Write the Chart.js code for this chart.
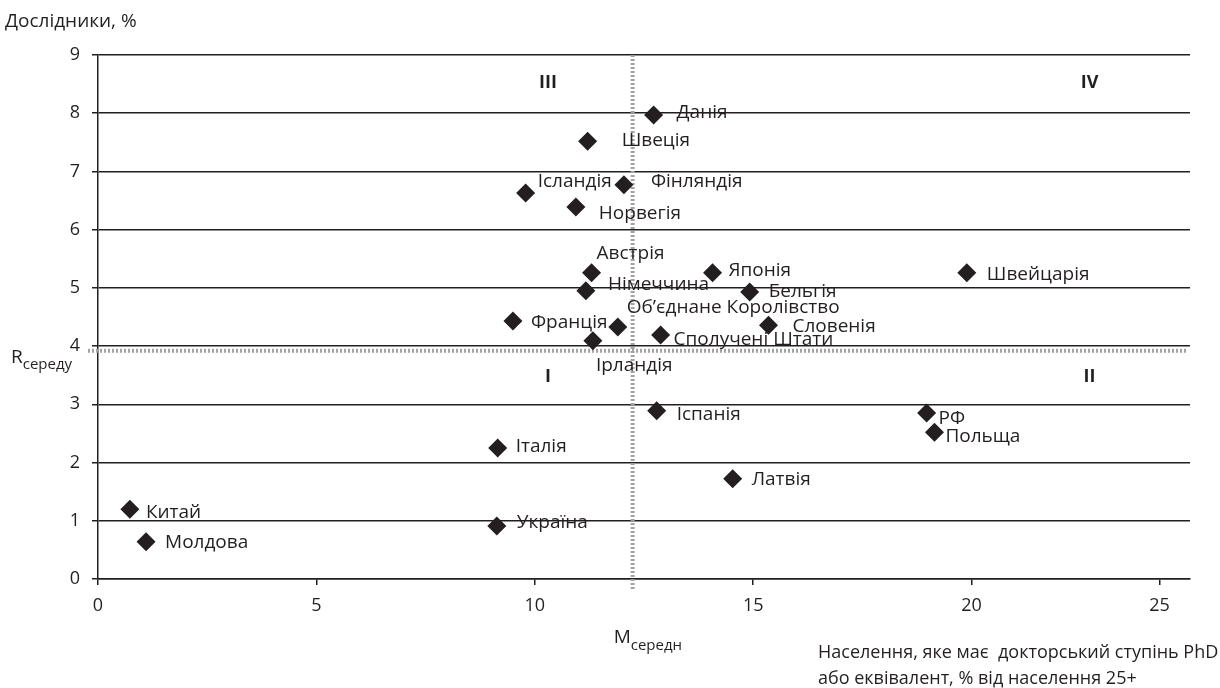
<!DOCTYPE html>
<html lang="uk">
  <head>
    <meta charset="UTF-8" />
    <title>Дослідники та PhD</title>
    <script src="https://cdn.jsdelivr.net/npm/chart.js"></script>
    <style>
      html, body { margin: 0; padding: 0; background: #fff; }
      #wrap { width: 1220px; height: 688px; position: relative; }
    </style>
  </head>
  <body>
    <div id="wrap">
      <canvas id="chart"></canvas>
    </div>
    <script>
      const countries = [
        "Данія", "Швеція", "Ісландія", "Фінляндія", "Норвегія",
        "Австрія", "Німеччина", "Японія", "Бельгія", "Швейцарія",
        "Франція", "Об’єднане Королівство", "Словенія", "Сполучені Штати", "Ірландія",
        "Іспанія", "Італія", "РФ", "Польща", "Латвія",
        "Китай", "Молдова", "Україна"
      ];
      const phdShare = [
        12.72, 11.21, 9.79, 12.04, 10.94,
        11.30, 11.17, 14.07, 14.92, 19.89,
        9.50, 11.90, 15.35, 12.88, 11.33,
        12.79, 9.15, 18.97, 19.15, 14.53,
        0.73, 1.10, 9.13
      ];
      const researchers = [
        7.97, 7.52, 6.63, 6.77, 6.39,
        5.26, 4.95, 5.26, 4.93, 5.26,
        4.43, 4.33, 4.36, 4.19, 4.09,
        2.89, 2.25, 2.85, 2.52, 1.72,
        1.20, 0.64, 0.91
      ];
      // where each country name sits relative to its marker, px
      const labelOffsets = [
        [23, -2], [34, -1], [12, -11], [27, -3], [23, 7],
        [5, -19], [22, -6], [16, -2], [19, 0], [20, 2],
        [18, 2], [9, -19], [24, 1], [13, 5], [3, 25],
        [20, 4], [18, -1], [12, 6], [11, 4], [19, 1],
        [16, 3], [19, 1], [20, -3]
      ];
      const xTickValues = [0, 5, 10, 15, 20, 24.3];
      const xTickLabels = ["0", "5", "10", "15", "20", "25"];
      const mMedian = 12.24;
      const rMedian = 3.92;
      const quadrants = [
        { text: "III", x: 10.3, y: 8.52 },
        { text: "IV", x: 22.7, y: 8.52 },
        { text: "I", x: 10.3, y: 3.47 },
        { text: "II", x: 22.7, y: 3.47 }
      ];

      const INK = "#231f20";
      const FONT = "'Open Sans', 'Noto Sans', sans-serif";

      const medianLines = {
        id: "medianLines",
        beforeDatasetsDraw(chart) {
          const { ctx, scales: { x, y }, chartArea } = chart;
          ctx.save();
          ctx.strokeStyle = "#a3a3a3";
          ctx.lineWidth = 4;
          ctx.setLineDash([2, 2]);
          const mx = x.getPixelForValue(mMedian);
          ctx.beginPath();
          ctx.moveTo(mx, chartArea.top);
          ctx.lineTo(mx, chartArea.bottom + 10);
          ctx.stroke();
          const ry = y.getPixelForValue(rMedian);
          ctx.beginPath();
          ctx.moveTo(chartArea.left - 10, ry);
          ctx.lineTo(chartArea.right - 2, ry);
          ctx.stroke();
          ctx.restore();
        }
      };

      const textLayer = {
        id: "textLayer",
        afterDatasetsDraw(chart) {
          const { ctx, scales: { x, y } } = chart;
          const meta = chart.getDatasetMeta(0);
          ctx.save();
          ctx.fillStyle = INK;
          ctx.textBaseline = "middle";
          ctx.textAlign = "left";
          ctx.font = "19px " + FONT;
          meta.data.forEach((pt, i) => {
            const off = labelOffsets[i];
            ctx.fillText(countries[i], pt.x + off[0], pt.y + off[1]);
          });
          ctx.font = "bold 18px " + FONT;
          ctx.textAlign = "center";
          quadrants.forEach((q) => {
            ctx.fillText(q.text, x.getPixelForValue(q.x), y.getPixelForValue(q.y));
          });
          ctx.restore();
        },
        afterDraw(chart) {
          const { ctx, scales: { x, y } } = chart;
          ctx.save();
          ctx.fillStyle = INK;
          ctx.textBaseline = "alphabetic";
          ctx.textAlign = "left";
          ctx.font = "19px " + FONT;
          ctx.fillText("Дослідники, %", 5, 27);
          ctx.font = "18px " + FONT;
          ctx.fillText("Населення, яке має  докторський ступінь PhD", 818, 658);
          ctx.fillText("або еквівалент, % від населення 25+", 818, 684);

          // R середу
          const ry = y.getPixelForValue(rMedian);
          ctx.font = "19px " + FONT;
          ctx.fillText("R", 11, ry + 12);
          let w = ctx.measureText("R").width;
          ctx.font = "15px " + FONT;
          ctx.fillText("середу", 11 + w, ry + 18);

          // M середн
          const mx = x.getPixelForValue(mMedian);
          ctx.font = "19px " + FONT;
          ctx.fillText("M", mx - 19, 643);
          w = ctx.measureText("M").width;
          ctx.font = "15px " + FONT;
          ctx.fillText("середн", mx - 19 + w, 650);
          ctx.restore();
        }
      };

      new Chart(document.getElementById("chart"), {
        type: "scatter",
        data: {
          datasets: [
            {
              data: phdShare.map((v, i) => ({ x: v, y: researchers[i] })),
              pointStyle: "rectRot",
              pointRadius: 9.5,
              pointHoverRadius: 9.5,
              backgroundColor: INK,
              borderColor: INK,
              borderWidth: 0
            }
          ]
        },
        options: {
          responsive: true,
          maintainAspectRatio: false,
          animation: false,
          layout: { padding: { top: 55, right: 30, left: 0, bottom: 0 } },
          plugins: {
            legend: { display: false },
            tooltip: { enabled: false }
          },
          scales: {
            x: {
              type: "linear",
              min: 0,
              max: 25,
              afterBuildTicks(scale) {
                scale.ticks = xTickValues.map((v) => ({ value: v }));
              },
              afterFit(scale) {
                scale.height = 109;
              },
              ticks: {
                autoSkip: false,
                maxRotation: 0,
                padding: 10,
                color: INK,
                font: { family: FONT, size: 18 },
                callback: (v, i) => xTickLabels[i]
              },
              grid: {
                drawOnChartArea: false,
                drawTicks: true,
                tickLength: 6,
                color: INK,
                lineWidth: 1.5
              },
              border: { display: true, color: INK, width: 1.5 }
            },
            y: {
              min: 0,
              max: 9,
              afterFit(scale) {
                scale.width = 98;
              },
              ticks: {
                stepSize: 1,
                padding: 12,
                color: INK,
                font: { family: FONT, size: 18 }
              },
              grid: {
                color: INK,
                lineWidth: 1.5,
                tickLength: 6
              },
              border: { display: true, color: INK, width: 1.5 }
            }
          }
        },
        plugins: [medianLines, textLayer]
      });
    </script>
  </body>
</html>
